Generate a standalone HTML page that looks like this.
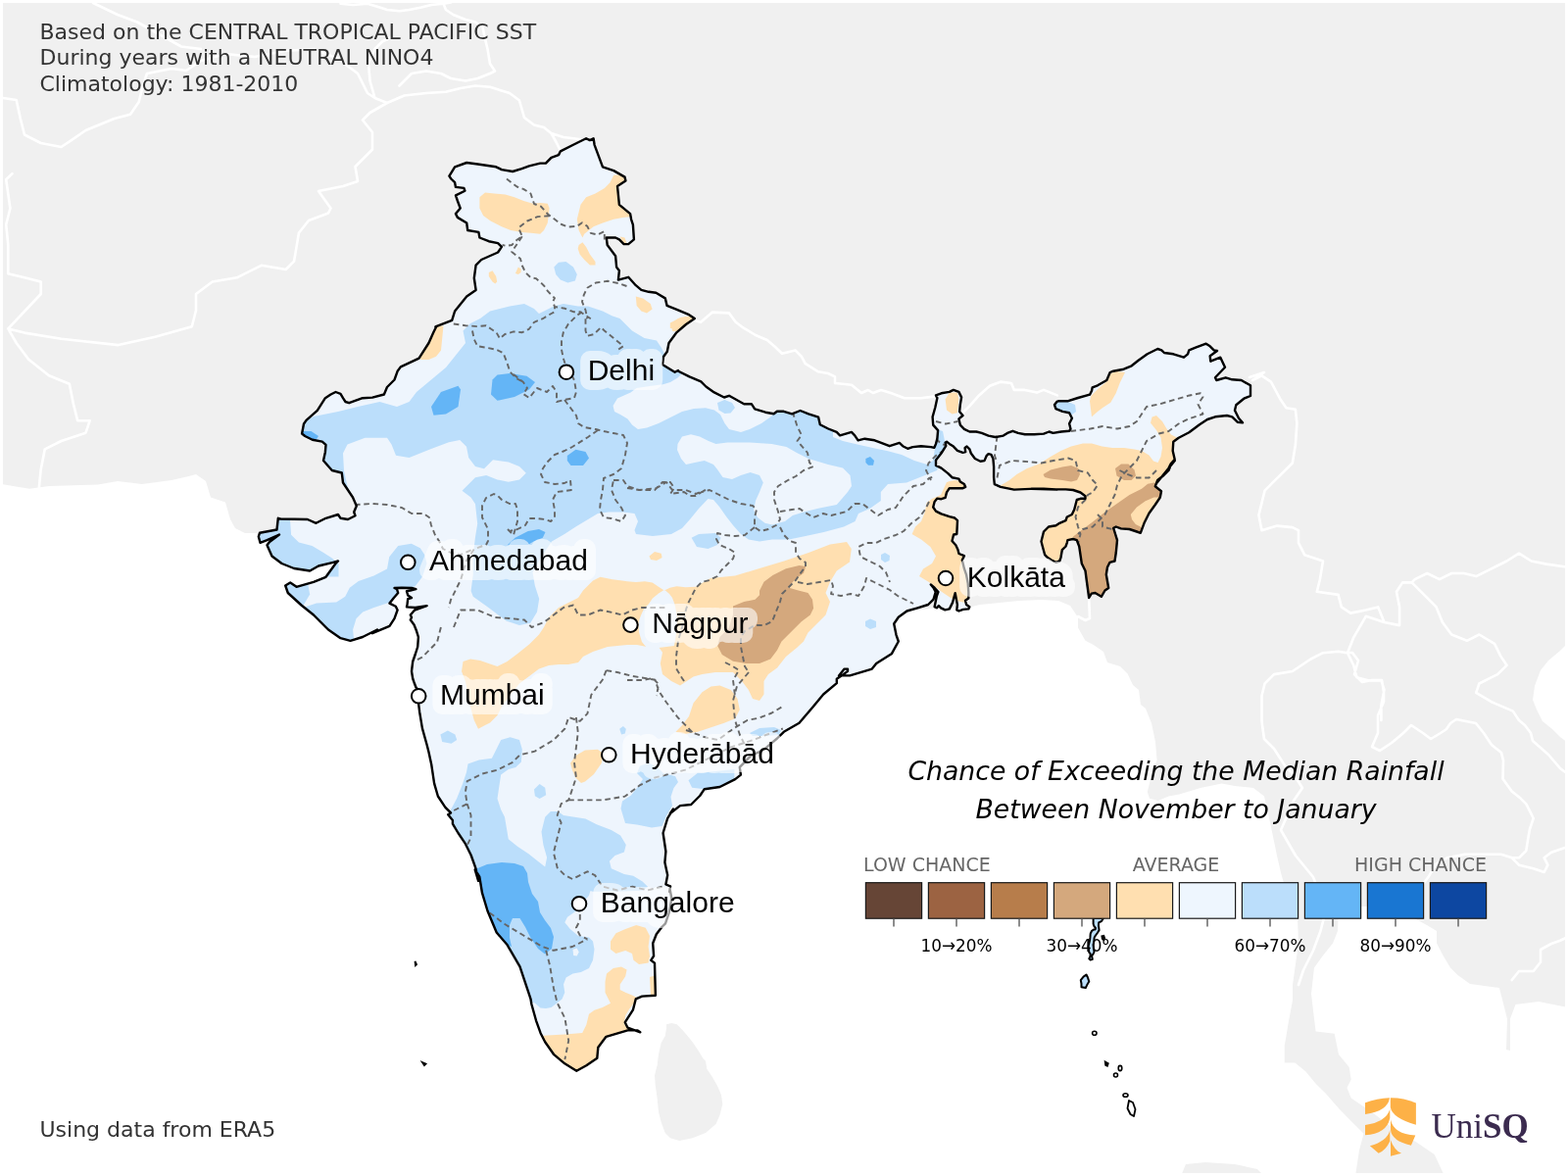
<!DOCTYPE html>
<html><head><meta charset="utf-8"><style>
html,body{margin:0;padding:0;background:#fff;}
svg{display:block;}
</style></head><body>
<svg width="1600" height="1200" viewBox="0 0 1600 1200" font-family="DejaVu Sans, sans-serif">
<rect x="3" y="3" width="1594" height="1194" fill="#f0f0f0"/><path d="M0.0,1200.0 L0.0,493.8 L0.0,493.8 L30.0,498.8 L50.0,496.0 L100.0,494.5 L120.0,491.0 L145.0,494.0 L175.0,490.0 L192.5,486.0 L200.0,484.0 L210.0,491.0 L215.0,507.5 L230.0,512.5 L235.0,530.0 L240.0,539.0 L250.0,544.0 L262.5,544.0 L263.8,547.5 L265.5,553.8 L272.5,551.2 L285.0,545.5 L275.0,553.0 L272.5,556.2 L277.5,567.5 L287.5,575.0 L300.0,580.0 L316.2,582.5 L325.0,577.5 L340.0,573.8 L345.0,572.5 L342.5,575.0 L332.5,588.8 L320.0,593.8 L302.5,598.8 L296.2,594.5 L291.2,597.5 L293.8,605.0 L307.5,617.5 L320.0,627.5 L335.0,642.5 L347.5,651.2 L357.5,653.8 L370.0,650.0 L385.0,642.5 L380.0,646.2 L397.5,638.8 L402.5,631.2 L405.6,622.5 L403.8,618.8 L397.5,615.6 L401.9,610.0 L406.2,605.0 L405.0,601.2 L402.5,600.0 L410.0,599.8 L420.0,600.0 L424.4,601.2 L418.8,602.5 L415.0,603.1 L416.2,607.5 L420.0,610.0 L416.2,611.2 L415.6,616.2 L415.0,619.4 L423.8,620.0 L435.6,618.1 L430.0,620.0 L423.1,622.5 L418.8,627.5 L420.0,630.0 L418.8,632.5 L422.5,637.5 L425.0,643.8 L426.9,650.0 L426.2,660.0 L423.8,667.5 L421.2,675.0 L420.0,685.0 L421.2,692.5 L422.5,696.2 L424.4,701.2 L427.5,705.0 L426.2,707.5 L427.2,718.8 L428.1,726.2 L430.9,743.1 L435.6,760.0 L437.5,767.5 L440.3,780.6 L443.1,799.4 L446.9,812.5 L454.4,823.8 L460.0,829.4 L457.2,831.2 L461.9,836.9 L461.9,840.6 L467.5,850.0 L475.0,861.2 L480.6,872.5 L485.3,885.6 L488.1,898.8 L484.7,887.3 L489.3,894.7 L492.0,911.2 L497.5,929.5 L506.7,951.5 L517.7,964.3 L530.5,986.3 L541.5,1019.3 L542.4,1024.8 L547.0,1041.3 L551.6,1054.2 L556.2,1063.3 L565.3,1076.2 L576.3,1085.3 L588.3,1092.7 L598.3,1087.2 L609.3,1079.8 L610.3,1068.8 L618.5,1057.8 L640.5,1051.4 L650.6,1051.4 L653.3,1053.3 L640.5,1048.7 L637.8,1043.2 L646.0,1030.3 L648.8,1019.3 L655.2,1016.6 L668.9,1015.7 L668.0,982.7 L664.3,979.9 L667.1,975.3 L666.2,962.5 L669.8,953.3 L675.3,946.0 L679.0,942.3 L682.7,931.3 L685.4,916.7 L683.6,907.5 L683.1,910.0 L684.1,904.4 L679.4,902.5 L681.2,893.1 L678.4,880.0 L679.4,868.8 L676.6,850.0 L681.2,835.0 L686.9,825.6 L683.9,830.0 L694.0,822.1 L705.2,821.0 L714.2,812.0 L718.8,805.2 L734.5,803.0 L750.2,795.1 L755.9,790.6 L754.8,782.8 L766.0,771.5 L779.5,764.8 L793.0,753.5 L799.8,746.8 L815.5,737.8 L829.0,722.0 L840.2,708.5 L853.8,697.2 L853.8,692.8 L860.5,688.2 L865.0,684.9 L865.0,682.6 L861.6,682.6 L856.0,689.4 L867.2,689.4 L889.8,682.6 L894.2,677.0 L910.0,666.9 L916.8,654.5 L914.5,647.8 L912.2,636.5 L916.8,629.8 L925.4,623.5 L940.0,622.0 L960.0,620.0 L988.0,620.0 L1000.0,617.0 L1020.0,615.0 L1040.0,613.0 L1062.0,612.0 L1080.0,613.0 L1092.0,618.0 L1100.0,630.0 L1100.0,640.6 L1107.5,653.8 L1115.0,657.5 L1126.0,665.0 L1130.0,676.0 L1143.0,680.0 L1150.6,687.5 L1156.0,699.0 L1162.0,704.0 L1164.0,719.0 L1169.0,723.0 L1175.0,738.0 L1179.0,757.0 L1180.6,775.6 L1175.0,791.0 L1170.8,808.0 L1173.0,814.8 L1181.7,817.0 L1192.5,812.6 L1203.3,810.5 L1225.0,804.0 L1246.6,799.6 L1260.0,802.0 L1279.0,804.0 L1290.0,812.6 L1294.0,830.0 L1298.6,851.6 L1303.0,873.0 L1307.0,890.6 L1309.4,899.0 L1316.0,915.0 L1322.0,930.0 L1324.0,937.5 L1325.0,962.5 L1319.0,1005.0 L1319.0,1020.7 L1315.0,1042.0 L1310.7,1067.5 L1310.7,1084.5 L1321.4,1084.5 L1332.0,1093.0 L1342.6,1105.7 L1353.0,1116.0 L1366.0,1131.0 L1378.7,1144.0 L1391.5,1156.7 L1387.0,1173.7 L1383.0,1200.0 L1290.0,1200.0 L1283.0,1193.0 L1260.0,1188.0 L1230.0,1186.0 L1210.0,1188.0 L1205.0,1200.0Z M1366.0,925.0 L1444.0,925.0 L1444.0,937.5 L1456.0,944.0 L1466.0,950.0 L1466.0,962.5 L1472.5,975.0 L1480.0,987.5 L1487.5,995.0 L1500.0,1004.0 L1530.0,1008.0 L1538.0,1040.0 L1537.0,1071.0 L1541.0,1072.0 L1541.0,1039.5 L1546.5,1025.0 L1570.0,1022.0 L1600.0,1028.0 L1600.0,1200.0 L1474.0,1200.0 L1463.7,1178.0 L1444.6,1165.0 L1420.0,1150.0 L1400.0,1135.0 L1378.7,1120.6 L1374.5,1110.0 L1378.7,1101.5 L1376.6,1088.7 L1366.0,1076.0 L1361.7,1054.7 L1342.6,1052.6 L1340.5,1035.6 L1338.0,1014.0 L1341.0,987.5 L1350.0,975.0 L1360.0,962.5 L1365.0,950.0Z M1600.0,656.0 L1592.0,664.0 L1580.0,674.0 L1572.0,684.0 L1566.0,700.0 L1564.0,714.0 L1568.0,724.0 L1574.0,736.0 L1584.0,744.0 L1592.0,752.0 L1600.0,758.0Z" fill="#ffffff"/><path d="M680.0,1045.3 L685.3,1044.0 L690.7,1045.3 L697.3,1052.0 L704.0,1060.0 L708.0,1065.3 L713.3,1073.3 L717.3,1080.0 L720.0,1082.7 L721.3,1090.7 L726.7,1098.7 L732.0,1108.0 L736.0,1117.3 L737.3,1126.7 L734.7,1137.3 L730.7,1146.7 L720.0,1156.0 L706.7,1161.3 L693.3,1164.0 L684.0,1161.3 L678.7,1156.0 L674.7,1145.3 L672.0,1134.7 L670.7,1121.3 L668.7,1106.7 L668.0,1097.3 L670.7,1086.7 L672.0,1076.0 L674.7,1064.0 L678.7,1057.3 L680.0,1049.3Z" fill="#f0f0f0"/><path id="india" d="M444.4,333.4 L461.2,326.9 L464.1,317.5 L476.2,302.5 L485.6,295.9 L483.8,283.8 L485.6,270.6 L491.2,265.0 L508.1,257.5 L511.9,251.9 L508.1,248.1 L498.8,246.2 L489.4,242.5 L488.4,236.9 L477.2,235.0 L476.2,227.5 L466.9,221.9 L465.0,218.1 L469.7,212.5 L466.9,205.0 L465.0,199.4 L474.4,194.7 L473.4,191.9 L465.0,190.9 L464.1,186.2 L460.3,182.5 L458.4,179.7 L464.1,170.3 L476.2,166.0 L487.5,167.5 L506.2,170.3 L511.9,173.1 L523.1,175.0 L532.5,172.2 L540.0,169.4 L551.2,166.6 L556.9,166.6 L562.5,160.9 L570.0,158.1 L571.9,154.4 L585.0,147.8 L598.1,141.2 L601.9,143.1 L605.6,141.2 L606.6,147.8 L615.0,170.3 L626.2,174.1 L637.5,180.6 L638.4,184.4 L630.0,190.0 L631.9,208.8 L643.1,218.1 L644.1,223.8 L645.9,229.4 L646.9,244.4 L641.2,249.1 L636.6,249.1 L631.9,244.4 L628.1,242.5 L618.8,242.5 L619.7,250.0 L628.1,261.2 L629.1,272.5 L631.9,276.2 L630.9,285.6 L641.2,282.8 L648.8,291.2 L654.4,295.9 L661.9,297.8 L669.4,298.8 L678.8,304.4 L680.6,311.9 L690.0,315.6 L703.1,321.2 L708.8,325.0 L700.0,331.0 L690.0,339.7 L682.5,350.0 L680.8,358.8 L677.0,364.0 L676.0,371.9 L682.5,376.0 L688.6,379.8 L692.0,378.0 L691.7,378.5 L703.5,384.4 L715.3,389.4 L720.4,394.5 L728.8,400.4 L738.9,405.5 L744.0,403.8 L759.2,412.2 L766.8,412.2 L770.2,417.3 L781.1,420.7 L789.6,422.3 L792.9,419.8 L799.7,419.8 L808.1,422.3 L816.6,419.0 L825.0,422.3 L835.1,425.7 L836.8,433.3 L845.2,437.5 L853.7,440.9 L857.1,444.3 L868.9,440.9 L872.2,444.3 L875.6,449.3 L882.4,447.7 L892.5,449.3 L899.2,451.9 L907.7,455.2 L917.8,451.9 L921.2,455.2 L926.2,457.8 L931.3,456.1 L939.8,455.2 L949.9,456.1 L953.2,456.9 L953.6,456.3 L955.0,452.9 L956.4,447.4 L957.1,439.1 L952.2,433.6 L951.6,425.4 L954.3,415.8 L956.4,406.1 L955.0,403.4 L960.5,401.3 L968.8,399.9 L972.9,397.9 L978.4,399.9 L981.1,405.4 L979.8,413.0 L979.1,419.9 L982.5,424.0 L978.4,427.4 L979.8,433.6 L983.9,437.8 L989.4,440.5 L996.2,440.5 L1001.8,441.9 L1008.6,444.6 L1015.5,446.0 L1023.8,444.6 L1027.9,441.9 L1033.4,439.8 L1038.9,441.9 L1045.8,443.2 L1055.4,443.2 L1065.0,442.6 L1070.5,440.5 L1074.6,441.9 L1082.9,440.5 L1091.1,439.8 L1092.5,437.8 L1091.1,432.2 L1093.9,426.8 L1091.1,421.2 L1084.2,419.9 L1077.4,417.1 L1076.0,413.0 L1078.8,409.6 L1080.0,409.3 L1089.3,409.3 L1100.0,406.0 L1112.0,402.7 L1114.0,398.7 L1114.7,395.3 L1120.0,393.3 L1129.3,388.0 L1132.7,380.0 L1136.0,378.7 L1146.7,376.7 L1154.7,373.3 L1161.3,368.0 L1170.7,361.3 L1181.3,356.0 L1185.3,357.3 L1188.0,360.0 L1197.3,361.3 L1208.0,364.7 L1212.0,361.3 L1213.3,357.3 L1220.0,354.7 L1230.7,350.7 L1234.7,353.3 L1238.7,357.3 L1242.0,358.0 L1234.7,363.3 L1235.3,368.7 L1245.3,364.7 L1250.0,374.7 L1240.0,385.3 L1241.3,388.0 L1250.7,385.3 L1257.3,387.3 L1266.7,388.0 L1276.0,393.3 L1276.0,404.0 L1269.3,406.7 L1261.3,413.3 L1260.0,418.7 L1264.0,426.7 L1268.0,431.3 L1262.7,430.7 L1257.3,425.3 L1252.0,424.0 L1240.0,425.3 L1232.0,428.0 L1224.0,433.3 L1213.3,441.3 L1202.7,446.7 L1197.3,450.7 L1196.7,460.0 L1198.7,468.7 L1194.7,473.3 L1190.7,481.3 L1184.0,488.0 L1180.0,493.3 L1198.8,470.0 L1195.0,473.8 L1192.5,480.0 L1187.5,485.0 L1181.2,490.0 L1178.8,496.2 L1185.0,501.2 L1183.8,507.5 L1178.8,515.0 L1172.5,523.8 L1167.5,533.8 L1163.8,543.8 L1160.0,542.5 L1152.5,540.0 L1143.8,539.4 L1138.8,537.5 L1136.2,538.8 L1138.1,545.0 L1140.0,551.2 L1138.8,563.8 L1137.5,572.5 L1132.5,573.8 L1130.0,578.8 L1128.8,586.2 L1131.2,600.0 L1127.5,602.5 L1123.8,608.8 L1117.5,605.0 L1113.8,605.6 L1111.2,610.0 L1108.8,592.5 L1107.5,582.5 L1103.8,575.0 L1102.5,566.2 L1101.2,557.5 L1098.8,551.2 L1095.0,550.0 L1089.4,551.2 L1088.8,553.8 L1087.5,557.5 L1083.8,561.2 L1082.5,568.8 L1081.2,572.5 L1077.5,573.8 L1072.5,571.2 L1068.8,568.8 L1066.2,566.2 L1063.8,557.5 L1062.5,552.5 L1065.0,542.5 L1070.0,537.5 L1077.5,536.2 L1081.2,533.8 L1087.5,531.2 L1088.8,527.5 L1093.8,525.0 L1096.2,520.0 L1097.5,515.0 L1098.8,510.0 L1102.5,508.8 L1107.5,508.8 L1107.5,506.2 L1102.5,502.5 L1095.0,500.0 L1087.5,499.4 L1077.5,499.4 L1065.0,498.8 L1052.5,498.8 L1078.8,499.6 L1065.0,498.9 L1051.2,498.9 L1034.8,499.6 L1021.0,496.9 L1014.8,494.1 L1014.1,487.2 L1014.1,476.2 L1013.4,468.0 L1011.4,463.9 L1008.6,463.2 L1006.6,465.2 L1004.5,470.1 L1000.4,470.8 L994.9,468.0 L990.8,462.5 L989.4,458.4 L986.6,455.6 L984.6,457.0 L985.2,461.1 L982.5,461.8 L977.0,459.8 L972.9,455.6 L968.8,452.9 L966.0,450.8 L964.6,451.5 L965.3,454.9 L960.5,462.5 L955.0,469.4 L955.0,474.9 L960.5,477.6 L967.4,483.1 L971.5,487.2 L978.4,488.6 L979.8,491.4 L983.9,494.1 L985.2,496.9 L982.5,498.2 L977.0,498.2 L968.8,498.2 L966.0,502.4 L964.6,507.9 L960.5,509.2 L956.4,508.6 L953.6,512.0 L952.2,517.5 L955.0,521.6 L960.5,524.4 L968.8,527.1 L974.2,528.5 L977.0,531.2 L976.3,545.0 L973.1,545.5 L971.5,552.0 L975.3,556.3 L977.4,560.7 L978.5,565.0 L983.9,567.2 L981.8,571.5 L983.9,580.2 L986.1,586.7 L987.7,595.4 L988.3,604.0 L988.3,608.4 L988.3,610.5 L985.0,612.7 L986.1,617.0 L989.3,619.2 L988.3,621.4 L982.8,621.9 L978.5,623.5 L976.3,622.4 L976.9,617.0 L975.3,608.4 L974.7,605.1 L972.0,614.9 L968.8,621.4 L964.4,622.4 L960.1,620.3 L957.9,618.1 L955.8,620.3 L953.6,619.2 L955.8,608.4 L957.4,604.0 L953.6,599.7 L950.3,597.0 L949.8,596.4 L952.5,599.7 L954.7,604.0 L952.5,611.6 L947.1,617.0 L936.3,620.3 L925.4,623.5 L916.8,629.8 L912.2,636.5 L914.5,647.8 L916.8,654.5 L910.0,666.9 L894.2,677.0 L889.8,682.6 L867.2,689.4 L856.0,689.4 L861.6,682.6 L865.0,682.6 L865.0,684.9 L860.5,688.2 L853.8,692.8 L853.8,697.2 L840.2,708.5 L829.0,722.0 L815.5,737.8 L799.8,746.8 L793.0,753.5 L779.5,764.8 L766.0,771.5 L754.8,782.8 L755.9,790.6 L750.2,795.1 L734.5,803.0 L718.8,805.2 L714.2,812.0 L705.2,821.0 L694.0,822.1 L683.9,830.0 L686.9,825.6 L681.2,835.0 L676.6,850.0 L679.4,868.8 L678.4,880.0 L681.2,893.1 L679.4,902.5 L684.1,904.4 L683.1,910.0 L683.6,907.5 L685.4,916.7 L682.7,931.3 L679.0,942.3 L675.3,946.0 L669.8,953.3 L666.2,962.5 L667.1,975.3 L664.3,979.9 L668.0,982.7 L668.9,1015.7 L655.2,1016.6 L648.8,1019.3 L646.0,1030.3 L637.8,1043.2 L640.5,1048.7 L653.3,1053.3 L650.6,1051.4 L640.5,1051.4 L618.5,1057.8 L610.3,1068.8 L609.3,1079.8 L598.3,1087.2 L588.3,1092.7 L576.3,1085.3 L565.3,1076.2 L556.2,1063.3 L551.6,1054.2 L547.0,1041.3 L542.4,1024.8 L541.5,1019.3 L530.5,986.3 L517.7,964.3 L506.7,951.5 L497.5,929.5 L492.0,911.2 L489.3,894.7 L484.7,887.3 L488.1,898.8 L485.3,885.6 L480.6,872.5 L475.0,861.2 L467.5,850.0 L461.9,840.6 L461.9,836.9 L457.2,831.2 L460.0,829.4 L454.4,823.8 L446.9,812.5 L443.1,799.4 L440.3,780.6 L437.5,767.5 L435.6,760.0 L430.9,743.1 L428.1,726.2 L427.2,718.8 L426.2,707.5 L427.5,705.0 L424.4,701.2 L422.5,696.2 L421.2,692.5 L420.0,685.0 L421.2,675.0 L423.8,667.5 L426.2,660.0 L426.9,650.0 L425.0,643.8 L422.5,637.5 L418.8,632.5 L420.0,630.0 L418.8,627.5 L423.1,622.5 L430.0,620.0 L435.6,618.1 L423.8,620.0 L415.0,619.4 L415.6,616.2 L416.2,611.2 L420.0,610.0 L416.2,607.5 L415.0,603.1 L418.8,602.5 L424.4,601.2 L420.0,600.0 L410.0,599.8 L402.5,600.0 L405.0,601.2 L406.2,605.0 L401.9,610.0 L397.5,615.6 L403.8,618.8 L405.6,622.5 L402.5,631.2 L397.5,638.8 L380.0,646.2 L385.0,642.5 L370.0,650.0 L357.5,653.8 L347.5,651.2 L335.0,642.5 L320.0,627.5 L307.5,617.5 L293.8,605.0 L291.2,597.5 L296.2,594.5 L302.5,598.8 L320.0,593.8 L332.5,588.8 L342.5,575.0 L345.0,572.5 L340.0,573.8 L325.0,577.5 L316.2,582.5 L300.0,580.0 L287.5,575.0 L277.5,567.5 L272.5,556.2 L275.0,553.0 L285.0,545.5 L272.5,551.2 L265.5,553.8 L263.8,547.5 L265.0,543.8 L282.5,540.5 L283.8,528.8 L286.2,529.5 L313.8,530.0 L322.5,533.8 L332.5,528.8 L345.0,525.0 L347.5,528.8 L355.0,530.0 L362.5,526.2 L361.2,522.5 L363.8,516.2 L360.0,507.5 L350.0,492.5 L348.8,482.5 L338.8,480.0 L330.0,470.0 L330.0,470.0 L331.9,461.2 L332.5,453.8 L328.8,450.6 L318.8,448.8 L311.2,445.0 L308.1,442.5 L310.0,432.5 L312.5,428.8 L323.8,418.8 L331.9,406.2 L337.5,402.5 L342.5,400.0 L347.5,401.9 L350.0,406.2 L352.5,410.0 L356.2,411.2 L370.0,406.2 L380.0,405.6 L391.9,402.5 L395.0,395.0 L402.5,387.5 L405.6,378.8 L408.8,374.4 L427.5,365.6 L437.5,350.0 L442.5,338.8 L445.0,333.8Z" fill="#eef5fd"/>
<path d="M8.3,335.4 L25.0,339.6 L62.5,345.8 L120.8,352.1 L158.3,343.8 L195.8,333.3 L200.0,316.7 L200.0,300.0 L216.7,287.5 L241.7,283.3 L266.7,270.8 L291.7,275.0 L300.0,266.7 L305.0,237.5 L315.0,225.0 L335.0,217.5 L337.5,212.5 L325.0,195.0 L350.0,190.0 L365.0,185.0 L362.5,170.0 L380.0,152.5 L380.0,135.0 L370.0,122.5 L377.5,115.0 L395.0,105.0 L412.5,97.5 L435.0,95.0 L455.0,93.8 L470.0,90.0 L485.0,87.5 L500.0,88.8 L520.0,95.0 L530.0,102.5 L535.0,120.0 L545.0,127.5 L555.0,130.0 L562.5,136.0 L575.0,140.0 L595.0,142.5 M562.5,136.0 L567.5,145.0 L572.5,155.0 M8.3,335.4 L41.7,300.0 L41.7,287.5 L25.0,283.3 L8.3,279.2 L8.3,250.0 L6.2,229.2 L10.4,212.5 L6.2,183.3 L12.5,177.1 M8.3,335.4 L16.7,350.0 L29.2,366.7 L50.0,383.3 L70.8,391.7 L75.0,412.5 L79.2,429.2 L91.7,429.2 L87.5,441.7 L62.5,450.0 L45.8,458.3 L41.7,479.2 L39.6,500.0 M3.0,100.0 L16.7,102.0 L20.8,121.0 L25.0,137.5 L41.7,146.0 L62.5,150.0 L75.0,141.7 L87.5,133.0 L116.7,121.0 L133.0,116.7 L141.7,104.0 L145.8,87.5 L150.0,75.0 L175.0,70.0 L190.0,72.0 L205.0,62.0 L230.0,55.0 L260.0,58.0 L290.0,52.0 L320.0,50.0 L345.0,60.0 L365.0,75.0 L375.0,95.0 L382.5,100.0 L395.0,105.0 M95.0,3.0 L120.0,15.0 L140.0,22.5 L162.5,35.0 L185.0,47.5 L205.0,50.0 M382.5,100.0 L377.5,82.5 L376.0,65.0 L382.5,50.0 L390.0,42.5 L400.0,37.5 M407.5,87.5 L420.0,75.0 L435.0,72.5 L450.0,75.0 L460.0,80.0 L475.0,82.5 L487.5,80.0 L500.0,75.0 L505.0,72.5 L500.0,65.0 L497.5,50.0 L495.0,40.0 L492.5,27.5 L485.0,22.5 L475.0,20.0 L462.5,15.0 L455.0,10.0 L452.5,3.8 M347.5,3.8 L360.0,5.0 L375.0,3.8 L387.5,7.5 L395.0,10.0 L407.5,11.2 L417.5,10.0 L430.0,7.5 L440.0,5.0 L452.5,3.8 L460.0,2.5 M708.6,327.0 L715.0,328.7 L727.0,318.6 L744.0,319.4 L750.8,328.7 L757.5,333.8 L771.0,342.0 L782.8,347.0 L791.0,354.0 L798.0,360.8 L811.5,357.4 L818.0,364.0 L821.6,370.9 L835.0,379.3 L845.0,381.0 L852.0,384.4 L852.0,391.0 L868.9,392.8 L879.0,401.0 L885.8,398.0 L890.8,401.0 L899.0,398.0 L909.0,401.0 L922.9,406.3 L939.8,406.3 L953.0,404.6 M982.5,421.0 L989.4,414.4 L999.0,403.4 L1010.0,393.8 L1021.0,389.6 L1032.0,391.0 L1034.8,397.9 L1045.8,397.9 L1058.0,400.6 L1065.0,397.9 L1078.8,403.4 M1275.0,385.0 L1290.0,380.0 L1278.1,388.1 L1287.5,383.4 L1296.9,389.7 L1306.2,406.9 L1312.5,416.2 L1321.9,417.8 L1323.4,431.9 L1321.9,453.8 L1318.8,472.5 L1309.4,481.9 L1300.0,491.2 L1290.6,500.6 L1287.5,513.1 L1284.4,525.6 L1287.5,541.2 L1303.1,536.6 L1318.8,538.1 L1325.0,541.2 L1325.0,553.8 L1331.2,566.2 L1350.0,572.5 L1346.9,591.2 L1343.8,603.8 L1365.6,606.9 L1368.8,619.4 L1378.1,625.6 L1393.8,622.5 L1406.2,619.4 L1412.5,635.0 L1428.1,638.1 L1428.1,619.4 L1425.0,603.8 L1431.2,594.4 L1440.6,594.4 L1443.8,591.2 L1456.2,585.0 L1468.8,591.2 L1481.2,585.0 L1493.8,585.0 L1506.2,588.1 L1518.8,581.9 L1537.5,572.5 L1550.0,564.7 L1562.5,572.5 L1578.1,575.6 L1600.0,578.8 M1440.6,594.4 L1453.1,606.9 L1465.6,619.4 L1471.9,635.0 L1481.2,647.5 L1496.9,653.8 L1509.4,647.5 L1525.0,656.9 L1531.2,669.4 L1537.5,678.8 L1528.1,688.1 L1509.4,697.5 L1506.2,706.9 L1521.9,716.2 L1543.8,725.6 L1550.0,735.0 M1412.5,635.0 L1393.8,628.8 L1381.2,650.6 L1375.0,666.2 L1365.6,664.7 L1350.0,666.2 L1337.5,672.5 L1318.8,685.0 L1300.0,688.1 L1290.6,697.5 L1287.5,710.0 L1287.5,735.0 M1375.0,666.2 L1381.2,678.8 L1384.4,691.2 L1396.9,694.4 L1409.4,694.4 L1412.5,703.8 L1409.4,719.4 L1409.4,735.0 M1372.0,666.0 L1380.0,666.0 L1386.0,674.0 L1382.0,688.0 L1390.0,696.0 L1400.0,694.0 L1410.0,694.0 L1412.0,706.0 L1412.0,716.0 L1406.0,730.0 L1406.0,736.0 L1406.0,748.0 L1400.0,762.0 L1408.0,766.0 L1420.0,758.0 L1432.0,748.0 L1440.0,740.0 L1452.0,748.0 L1460.0,754.0 L1470.0,748.0 L1476.0,744.0 L1480.0,738.0 L1486.0,734.0 L1496.0,736.0 L1506.0,738.0 L1514.0,748.0 L1522.0,760.0 L1532.0,768.0 L1534.0,776.0 L1533.5,794.7 L1542.7,807.5 L1551.8,814.8 L1557.3,820.3 L1561.0,827.7 L1564.7,835.0 L1561.0,846.0 L1559.0,857.0 L1557.3,868.0 L1550.0,875.3 L1542.7,875.3 L1531.7,871.7 L1513.3,871.7 L1495.0,871.7 L1476.7,875.3 L1465.0,882.0 L1458.3,893.7 L1450.0,905.0 M1542.7,875.3 L1550.0,882.7 L1564.7,886.3 L1575.7,890.0 L1579.4,882.7 L1575.7,875.3 L1583.0,869.8 L1594.0,866.0 L1600.0,864.0 M1542.7,1000.0 L1550.0,991.0 L1564.7,991.0 L1572.0,981.7 L1572.0,969.0 L1583.0,963.0 L1592.0,959.7 L1600.0,956.0 M1550.0,735.0 L1556.0,740.0 L1562.0,748.0 L1564.0,756.0 L1580.0,770.0 L1592.0,784.0 L1600.0,790.0 M1287.5,735.0 L1288.0,740.0 L1290.0,754.0 L1300.0,764.0 L1311.6,782.0 L1320.0,790.0 L1329.0,804.0 L1320.0,817.0 L1307.0,847.0 L1322.0,873.0 L1340.0,895.0 L1348.4,916.6 L1350.6,938.0 L1347.5,950.0 L1340.0,970.0 L1330.0,990.0 L1325.0,1005.0 M1111.2,610.6 L1112.0,631.0 L1107.5,633.0 L1100.0,629.0" fill="none" stroke="#fff" stroke-width="2.6" stroke-linejoin="round" stroke-linecap="round"/>
<clipPath id="clipIndia"><use href="#india"/></clipPath>
<g clip-path="url(#clipIndia)">
<path d="M295.0,445.0 L310.0,430.0 L320.0,425.0 L345.0,420.0 L365.0,415.0 L387.5,410.0 L405.0,415.0 L417.5,410.0 L425.0,400.0 L440.0,387.5 L455.0,375.0 L465.0,362.5 L475.0,350.0 L472.5,337.5 L480.0,330.0 L490.0,325.0 L500.0,317.5 L520.0,312.5 L535.0,310.0 L545.0,315.0 L550.0,320.0 L565.0,312.5 L575.0,310.0 L590.0,312.5 L600.0,312.5 L615.0,317.5 L625.0,322.5 L632.5,325.0 L645.0,337.5 L657.5,345.0 L670.0,347.5 L675.0,355.0 L680.0,365.0 L690.0,360.0 L760.0,370.0 L900.0,420.0 L962.0,440.0 L966.0,460.0 L956.0,480.0 L943.8,485.0 L925.0,492.5 L906.0,494.0 L898.8,502.0 L898.8,511.0 L887.5,519.0 L876.0,524.0 L872.5,532.0 L861.0,537.5 L840.6,543.0 L822.0,547.0 L805.0,550.6 L788.0,550.6 L775.0,552.5 L763.8,550.6 L756.0,545.0 L748.0,536.0 L741.0,527.0 L734.0,517.0 L728.0,510.0 L722.5,509.0 L713.0,519.0 L704.0,530.0 L696.0,539.0 L685.0,545.0 L666.0,547.0 L649.0,545.0 L647.5,541.0 L651.0,532.0 L647.5,524.0 L636.0,522.5 L621.0,522.5 L610.0,524.0 L600.0,530.0 L587.5,537.5 L576.0,545.0 L563.0,552.5 L552.5,568.0 L543.5,584.0 L545.8,597.5 L550.2,611.0 L548.0,624.5 L541.2,635.8 L530.0,638.0 L516.5,633.5 L498.5,620.0 L482.8,608.8 L480.6,603.0 L482.8,586.0 L482.8,566.0 L485.0,548.0 L487.2,534.5 L485.0,514.2 L480.5,507.5 L471.5,500.8 L476.0,496.2 L485.0,487.2 L496.2,485.0 L507.5,489.5 L518.8,491.8 L530.0,489.5 L536.8,482.8 L530.0,476.0 L518.8,471.5 L503.0,469.2 L494.0,478.2 L485.0,476.0 L478.2,467.0 L476.0,455.8 L469.2,449.0 L458.0,451.2 L440.0,458.0 L417.5,467.0 L404.0,464.8 L399.5,453.5 L395.0,446.8 L372.5,446.8 L354.5,453.5 L350.0,462.5 L351.0,480.5 L354.5,496.0 L359.0,507.5 L363.5,516.5 L340.0,525.0 L290.0,460.0Z" fill="#bbdefb"/><path d="M282.5,525.5 L296.0,530.0 L297.1,545.8 L305.0,553.6 L318.5,557.0 L329.8,563.8 L338.8,569.4 L345.5,575.0 L345.5,588.5 L260.0,588.5 L260.0,525.5Z" fill="#bbdefb"/><path d="M289.2,593.0 L314.0,595.2 L316.2,606.5 L309.5,617.8 L298.2,613.2 L289.2,602.0Z" fill="#bbdefb"/><path d="M309.5,620.0 L323.0,615.5 L343.2,614.4 L352.2,608.8 L356.8,599.8 L365.8,593.0 L381.5,587.4 L395.0,580.6 L397.2,568.2 L406.2,557.0 L419.8,554.8 L428.8,559.2 L433.2,566.0 L435.5,575.0 L431.0,588.5 L424.2,597.5 L417.5,602.0 L406.2,611.0 L395.0,615.5 L381.5,620.0 L370.2,624.5 L363.5,631.2 L360.1,642.5 L361.2,653.8 L327.5,656.0 L300.5,631.2Z" fill="#bbdefb"/><path d="M625.5,414.0 L630.0,406.5 L643.5,400.5 L649.5,396.0 L664.5,393.8 L676.5,392.2 L684.0,390.0 L691.5,385.5 L696.0,381.0 L720.0,385.0 L780.0,405.0 L792.0,418.0 L787.5,424.5 L777.0,432.0 L765.0,438.0 L756.0,441.0 L744.0,438.0 L739.5,432.0 L735.0,423.0 L729.0,418.5 L720.0,416.2 L708.0,417.0 L696.0,420.0 L684.0,426.0 L672.0,432.0 L660.0,436.5 L651.0,438.0 L645.0,433.5 L640.5,427.5 L633.0,423.0 L627.0,420.0Z" fill="#eef5fd"/><path d="M732.0,411.0 L739.5,408.0 L747.0,411.0 L750.0,416.0 L745.5,421.5 L739.5,422.0 L733.5,418.5Z" fill="#bbdefb"/><path d="M850.0,438.0 L900.0,445.0 L955.0,452.0 L952.0,470.0 L946.0,474.0 L933.0,470.0 L920.0,464.0 L905.0,460.0 L895.0,458.0 L877.0,454.0 L860.0,450.0 L850.0,446.0Z" fill="#eef5fd"/><path d="M691.5,453.0 L696.0,445.5 L705.0,443.2 L714.0,445.5 L723.0,450.0 L730.5,453.0 L742.5,451.5 L765.0,451.5 L787.5,453.0 L802.5,456.0 L813.0,462.0 L825.0,468.0 L845.0,474.0 L860.0,477.5 L867.5,485.0 L869.0,496.0 L865.0,502.0 L859.0,509.0 L853.8,515.0 L835.0,518.8 L820.0,522.5 L808.8,526.0 L801.0,532.0 L788.0,535.6 L780.6,533.8 L773.0,528.0 L769.0,520.6 L771.0,511.0 L775.0,502.0 L778.8,492.5 L775.0,485.0 L765.6,482.0 L756.0,485.0 L747.0,489.0 L737.5,487.0 L732.0,479.0 L728.0,474.0 L718.8,470.0 L709.0,472.0 L700.0,474.0 L695.0,468.0 L691.0,459.0Z" fill="#eef5fd"/><path d="M705.6,548.8 L713.0,545.0 L730.0,544.0 L735.6,548.8 L732.0,556.0 L722.5,560.0 L711.0,558.0Z" fill="#bbdefb"/><path d="M899.0,566.0 L903.0,564.0 L908.0,567.0 L907.5,572.0 L903.0,574.0 L899.0,571.0Z" fill="#bbdefb"/><path d="M883.0,634.0 L888.0,631.5 L894.0,634.0 L894.0,640.0 L888.0,642.0 L883.0,639.0Z" fill="#bbdefb"/><path d="M565.3,272.5 L570.0,267.8 L577.5,266.9 L585.0,272.5 L588.8,280.0 L586.9,286.6 L579.4,288.4 L571.9,285.6 L567.2,280.0Z" fill="#bbdefb"/><path d="M1076.0,410.0 L1090.0,410.0 L1097.0,413.0 L1098.0,420.0 L1094.0,423.0 L1080.0,422.0Z" fill="#bbdefb"/><path d="M440.0,415.0 L450.0,400.0 L467.5,393.8 L470.0,397.5 L467.5,415.0 L455.0,422.5 L442.5,423.8Z" fill="#64b5f6"/><path d="M502.5,387.5 L507.5,382.5 L520.0,381.0 L537.5,383.8 L546.0,390.0 L540.0,397.5 L525.0,405.0 L507.5,408.8 L501.0,402.5Z" fill="#64b5f6"/><path d="M578.8,465.0 L587.5,458.8 L597.5,461.0 L601.0,467.5 L595.0,475.0 L582.5,475.0 L578.8,470.0Z" fill="#64b5f6"/><path d="M308.0,440.0 L317.5,440.0 L325.0,445.0 L322.5,448.8 L312.5,447.5Z" fill="#64b5f6"/><path d="M525.6,548.8 L538.8,542.0 L550.0,540.0 L556.5,543.0 L553.8,548.8 L544.4,552.5 L538.8,556.0 L518.0,556.0Z" fill="#64b5f6"/><path d="M883.4,468.0 L888.0,466.0 L892.0,470.0 L891.0,474.7 L886.0,474.7 L883.4,472.0Z" fill="#64b5f6"/><path d="M477.5,779.4 L488.8,775.6 L501.9,773.8 L507.5,762.5 L511.2,755.0 L520.6,752.2 L530.0,755.0 L532.8,764.4 L531.9,777.5 L526.2,783.1 L518.8,785.0 L511.2,790.6 L509.4,801.9 L507.5,815.0 L511.2,826.2 L515.0,833.8 L516.9,845.0 L518.8,856.2 L528.1,863.8 L539.4,871.2 L548.8,878.8 L556.2,884.4 L558.1,875.0 L554.4,861.9 L552.5,848.8 L556.2,833.8 L561.9,828.1 L569.4,828.1 L575.0,831.9 L586.2,833.8 L597.5,835.6 L608.8,841.2 L623.8,846.9 L633.1,852.5 L638.8,861.9 L636.9,869.4 L627.5,873.1 L621.9,878.8 L623.8,886.2 L636.9,891.9 L646.2,893.8 L655.6,899.4 L661.2,905.0 L655.6,908.8 L627.5,909.7 L605.0,909.7 L601.2,908.8 L603.8,904.0 L601.0,913.8 L587.3,930.0 L579.0,935.8 L576.3,941.2 L581.8,948.0 L590.0,955.0 L601.0,956.4 L605.0,960.5 L606.5,968.8 L605.0,979.8 L601.0,988.0 L592.8,992.0 L584.5,993.5 L577.6,997.6 L575.0,1004.5 L576.3,1012.8 L573.5,1019.6 L568.0,1023.8 L562.5,1028.0 L557.0,1029.0 L551.5,1028.6 L546.0,1023.8 L500.0,1000.0 L445.0,845.0 L458.0,830.0 L466.0,815.0 L472.0,800.0 L476.0,788.0Z" fill="#bbdefb"/><path d="M584.5,968.8 L588.7,967.4 L590.7,971.5 L588.7,975.6 L585.2,975.0Z" fill="#eef5fd"/><path d="M633.5,825.0 L635.0,817.5 L644.0,811.5 L650.0,804.0 L656.0,795.0 L650.0,789.0 L653.0,781.5 L662.0,778.5 L671.0,783.0 L677.0,789.0 L689.0,792.0 L692.0,798.0 L687.5,804.0 L684.5,813.0 L686.0,822.0 L680.0,832.5 L675.5,843.0 L665.0,844.5 L650.0,841.5 L638.0,840.0Z" fill="#bbdefb"/><path d="M765.0,748.0 L775.0,743.0 L790.0,742.0 L797.0,745.0 L795.0,750.0 L780.0,751.0 L768.0,751.0Z" fill="#bbdefb"/><path d="M702.5,796.2 L711.9,788.8 L730.6,786.9 L749.4,785.0 L749.4,803.8 L721.2,805.6 L706.2,803.8Z" fill="#bbdefb"/><path d="M449.4,749.4 L456.9,745.6 L464.4,749.4 L466.2,755.0 L460.6,758.8 L451.2,756.9Z" fill="#bbdefb"/><path d="M545.0,805.6 L550.6,800.0 L556.2,803.8 L557.2,811.2 L550.6,815.0 L545.9,812.2Z" fill="#bbdefb"/><path d="M632.2,743.8 L635.9,740.9 L638.8,743.8 L637.8,748.4 L634.1,749.4Z" fill="#bbdefb"/><path d="M470.0,880.0 L485.0,887.0 L497.0,882.0 L512.0,880.0 L525.0,881.0 L534.0,884.0 L538.0,891.0 L539.0,900.0 L543.0,912.0 L549.0,920.0 L551.0,931.0 L556.0,939.0 L562.0,947.0 L565.0,956.0 L563.0,968.0 L556.0,973.5 L549.0,968.0 L541.5,957.0 L536.0,946.0 L530.5,937.0 L523.0,937.0 L520.0,944.0 L520.0,957.0 L522.0,966.0 L517.7,964.3 L506.7,951.5 L497.5,929.5 L480.0,907.5Z" fill="#64b5f6"/><path d="M489.4,201.2 L495.0,196.6 L504.4,197.5 L515.6,198.4 L525.0,201.2 L534.4,205.0 L543.8,207.8 L551.2,206.9 L558.8,207.8 L560.6,212.5 L559.7,220.0 L558.8,227.5 L555.0,235.0 L551.2,238.8 L541.9,237.8 L532.5,236.9 L521.2,235.0 L511.9,231.2 L500.6,225.6 L493.1,220.0 L489.4,212.5Z" fill="#ffdfb0"/><path d="M626.2,178.8 L645.0,176.9 L656.2,220.0 L635.6,221.9 L626.2,223.8 L615.0,227.5 L605.6,231.2 L596.2,238.8 L594.4,242.5 L590.6,235.0 L588.8,223.8 L592.5,208.8 L598.1,201.2 L607.5,197.5 L616.9,191.9 L622.5,186.2Z" fill="#ffdfb0"/><path d="M590.6,250.0 L594.4,247.2 L598.1,251.9 L601.9,259.4 L607.5,266.9 L607.5,270.6 L601.9,270.6 L596.2,265.0 L591.6,259.4 L589.7,253.8Z" fill="#ffdfb0"/><path d="M498.8,278.1 L502.5,276.2 L506.2,281.9 L507.2,287.5 L505.3,289.4 L502.5,287.5 L498.8,281.9Z" fill="#ffdfb0"/><path d="M525.9,279.1 L528.8,272.5 L531.6,274.4 L531.6,278.1 L528.8,280.0Z" fill="#ffdfb0"/><path d="M648.8,302.5 L656.2,304.4 L663.8,310.0 L665.6,315.6 L660.0,319.4 L654.4,317.5 L649.7,311.9Z" fill="#ffdfb0"/><path d="M684.4,330.6 L691.9,325.0 L701.2,323.1 L712.5,321.2 L712.5,340.0 L686.2,338.1Z" fill="#ffdfb0"/><path d="M632.8,241.6 L637.5,242.5 L639.4,248.1 L635.6,249.1Z" fill="#ffdfb0"/><path d="M445.0,332.5 L452.5,332.5 L450.0,357.5 L445.0,363.8 L437.5,366.9 L430.0,366.9 L427.5,365.6 L437.5,350.0 L442.5,338.8Z" fill="#ffdfb0"/><path d="M683.8,329.4 L695.0,323.8 L708.1,321.9 L691.2,335.0 L683.8,335.0Z" fill="#ffdfb0"/><path d="M964.6,407.5 L968.8,400.6 L977.0,400.6 L978.4,407.5 L977.0,421.2 L971.5,422.6 L966.0,418.5Z" fill="#ffdfb0"/><path d="M967.4,491.4 L974.2,490.0 L979.8,491.4 L983.9,495.5 L982.5,498.2 L968.8,498.2Z" fill="#ffdfb0"/><path d="M930.6,545.0 L934.0,537.5 L940.0,532.0 L943.8,522.5 L945.6,513.0 L951.0,509.0 L960.0,505.0 L966.0,492.0 L983.0,490.0 L1000.0,495.0 L1000.0,640.0 L985.0,615.0 L973.8,612.5 L962.5,605.0 L947.5,593.8 L938.0,588.0 L942.0,580.6 L951.0,575.0 L955.0,567.5 L949.4,558.0 L940.0,550.6Z" fill="#ffdfb0"/><path d="M471.0,685.0 L472.5,675.0 L480.0,672.5 L490.0,674.0 L500.0,677.5 L507.5,680.0 L517.5,675.0 L527.5,667.5 L540.0,657.5 L550.0,647.5 L555.0,640.0 L560.0,630.0 L570.0,620.0 L580.0,615.0 L590.0,610.0 L595.0,602.5 L605.0,592.5 L612.5,588.8 L625.0,591.2 L635.0,592.5 L640.0,593.3 L649.0,594.0 L658.0,593.3 L665.7,594.6 L672.0,598.8 L677.0,602.0 L679.0,602.0 L683.6,599.7 L690.5,598.3 L699.6,599.2 L710.0,598.8 L725.0,590.0 L750.0,587.5 L775.0,580.0 L800.0,572.5 L825.0,564.0 L847.0,555.6 L864.0,553.0 L868.8,560.0 L867.0,573.5 L853.8,582.5 L847.0,593.8 L842.5,605.0 L847.0,614.0 L842.5,627.5 L833.5,636.5 L824.5,645.5 L820.0,654.5 L813.0,661.0 L802.0,670.0 L793.0,681.5 L784.0,688.0 L779.5,695.0 L779.5,708.5 L775.0,715.0 L768.0,713.0 L763.8,704.0 L757.0,695.0 L748.0,686.0 L730.0,686.0 L716.5,688.0 L707.5,690.5 L700.8,695.0 L694.0,699.5 L685.0,695.0 L676.0,688.0 L673.8,677.0 L676.0,665.8 L672.0,660.0 L660.0,660.0 L650.0,658.0 L640.0,658.0 L630.0,659.0 L620.0,660.0 L605.0,665.0 L595.0,670.0 L590.0,676.0 L580.0,678.0 L570.0,678.0 L560.0,679.0 L550.0,682.5 L540.0,690.0 L530.0,697.5 L520.0,710.0 L512.5,720.0 L507.5,730.0 L500.0,737.5 L495.0,740.0 L488.0,743.8 L483.8,735.0 L479.0,717.5 L475.0,695.6Z" fill="#ffdfb0"/><path d="M677.6,602.0 L672.0,605.6 L665.7,610.7 L662.0,616.2 L657.4,620.8 L654.7,626.3 L652.8,630.9 L651.5,636.0 L652.0,645.0 L655.0,655.0 L660.0,661.0 L672.0,661.0 L688.0,659.0 L691.0,640.0 L690.5,626.3 L689.6,621.7 L688.6,617.0 L687.7,614.4 L685.9,609.8 L683.0,606.0 L679.0,602.4Z" fill="#eef5fd"/><path d="M775.0,602.8 L779.5,593.8 L788.5,587.0 L802.0,580.2 L815.5,576.9 L822.2,578.0 L820.0,584.8 L811.0,591.5 L804.2,599.4 L815.5,602.8 L824.5,605.0 L829.0,611.8 L830.1,620.8 L826.8,627.5 L817.8,634.2 L808.8,643.2 L797.5,654.5 L793.0,663.5 L786.2,672.5 L775.0,677.0 L761.5,677.0 L748.0,674.8 L736.8,668.0 L732.2,659.0 L734.5,650.0 L743.5,641.0 L748.0,627.5 L748.0,618.5 L759.2,614.0 L770.5,611.8 L775.0,607.2Z" fill="#d4a87d"/><path d="M689.5,746.8 L696.2,740.0 L703.0,731.0 L707.5,717.5 L716.5,706.2 L725.5,700.6 L734.5,699.5 L745.8,704.0 L752.5,713.0 L754.8,724.2 L750.2,733.2 L739.0,737.8 L725.5,742.2 L712.0,746.8 L698.5,749.0Z" fill="#ffdfb0"/><path d="M582.0,778.8 L587.5,771.0 L597.0,765.6 L610.0,764.7 L615.6,769.0 L613.8,778.8 L606.0,790.0 L597.0,797.5 L593.0,799.0 L587.5,793.8 L584.0,786.0Z" fill="#ffdfb0"/><path d="M662.5,567.5 L668.0,563.0 L674.7,564.7 L675.6,569.0 L670.0,572.0 L664.0,571.0Z" fill="#ffdfb0"/><path d="M623.0,960.5 L628.5,952.3 L638.2,948.0 L649.2,944.0 L658.8,946.8 L663.0,955.0 L661.6,966.0 L663.0,975.6 L661.6,982.5 L652.0,984.0 L646.4,979.8 L645.0,973.0 L638.2,970.0 L628.5,972.9 L623.0,968.8Z" fill="#ffdfb0"/><path d="M554.3,1056.8 L576.3,1055.5 L594.2,1054.0 L598.3,1045.8 L601.0,1034.8 L606.5,1030.7 L614.8,1028.0 L623.0,1023.8 L617.5,1012.8 L617.5,1001.8 L619.0,993.5 L625.8,988.0 L634.0,986.6 L639.6,989.4 L638.2,996.3 L632.7,1004.5 L632.7,1010.0 L638.2,1012.8 L645.0,1015.5 L650.6,1018.3 L647.8,1022.4 L642.4,1029.3 L638.2,1036.2 L636.8,1044.4 L639.6,1048.5 L652.0,1051.3 L670.0,1060.0 L660.0,1100.0 L560.0,1100.0 L540.0,1060.0Z" fill="#ffdfb0"/><path d="M663.0,997.0 L670.0,995.0 L672.0,1015.0 L664.0,1016.0Z" fill="#ffdfb0"/><path d="M1022.5,494.5 L1030.0,490.0 L1037.5,484.0 L1048.0,478.0 L1060.0,473.5 L1072.0,466.0 L1082.5,460.0 L1093.0,455.5 L1105.0,452.5 L1114.0,452.5 L1124.5,455.5 L1135.0,457.0 L1147.0,457.0 L1157.5,458.5 L1165.0,460.0 L1172.5,464.5 L1177.0,470.5 L1181.5,472.0 L1184.5,466.0 L1186.0,457.0 L1184.5,446.5 L1180.0,439.0 L1174.0,431.5 L1175.5,425.5 L1180.0,424.0 L1186.0,430.0 L1190.5,437.5 L1195.0,443.5 L1201.0,446.5 L1240.0,445.0 L1240.0,610.0 L1060.0,610.0 L1015.0,499.0Z" fill="#ffdfb0"/><path d="M1112.0,409.3 L1113.3,404.0 L1120.0,397.3 L1130.7,388.0 L1133.3,381.3 L1138.7,378.7 L1148.0,380.0 L1142.7,390.7 L1138.7,401.3 L1133.3,410.7 L1125.3,416.0 L1120.0,420.0 L1114.0,425.3Z" fill="#ffdfb0"/><path d="M1064.5,484.0 L1072.0,479.5 L1084.0,476.5 L1093.0,475.0 L1100.5,478.0 L1102.0,484.0 L1099.0,490.0 L1093.0,491.5 L1084.0,490.0 L1072.0,488.5 L1066.0,487.0Z" fill="#d4a87d"/><path d="M1138.0,478.0 L1144.0,473.5 L1151.5,473.5 L1157.5,479.5 L1159.0,485.5 L1154.5,490.0 L1147.0,490.0 L1139.5,485.5Z" fill="#d4a87d"/><path d="M1095.0,547.5 L1105.0,540.0 L1115.0,532.5 L1127.5,522.5 L1140.0,513.8 L1152.5,505.0 L1165.0,498.8 L1171.2,493.8 L1177.5,492.5 L1183.8,495.0 L1190.0,500.0 L1183.8,507.5 L1177.5,507.5 L1168.8,511.2 L1160.0,517.5 L1153.8,525.0 L1155.0,530.0 L1158.8,535.0 L1163.8,537.5 L1167.5,540.0 L1177.5,545.0 L1152.5,547.5 L1146.2,620.0 L1102.5,620.0 L1100.0,557.5Z" fill="#d4a87d"/>
<path d="M517.0,182.6 L527.5,190.5 L534.5,193.1 L541.5,197.5 L545.0,208.0 L552.0,210.6 L559.0,218.5 L566.0,223.8 L573.0,229.0 L580.0,231.6 L588.8,230.8 L594.0,227.2 L599.2,230.8 L602.8,237.8 L609.8,239.5 L616.8,236.0 L616.8,244.8 M560.8,220.2 L548.5,221.1 L538.0,225.5 L529.2,232.5 L532.8,241.2 L527.5,244.8 L522.2,250.0 L517.0,250.9 L512.6,250.0 M532.8,241.2 L522.2,257.0 L531.0,264.0 L532.8,271.0 L536.2,278.0 L541.5,283.2 L546.8,284.1 L552.0,288.5 L555.5,292.0 L559.0,297.2 L562.5,300.8 L566.0,304.2 L564.2,307.8 L566.0,313.0 L576.5,314.8 L585.2,318.2 L592.2,318.2 L597.5,321.8 L602.8,325.2 M462.8,330.5 L475.0,332.2 L487.2,333.1 L496.0,332.2 L501.2,335.8 L506.5,339.2 L510.0,345.4 L515.2,341.0 L524.0,338.4 L532.8,339.2 L539.8,335.8 L545.0,328.8 L553.8,325.2 L562.5,320.0 L566.0,318.2 L566.0,313.0 M482.0,337.5 L483.8,346.2 L487.2,353.2 L497.8,355.0 L506.5,356.8 L513.5,360.2 L517.0,369.0 L520.5,379.5 L527.5,386.5 L534.5,390.0 M594.0,318.2 L588.8,321.8 L580.0,330.5 L574.8,339.2 L573.0,348.0 L573.0,356.8 L574.8,365.5 L576.5,370.8 M597.5,325.2 L597.5,337.5 L599.2,342.8 L606.2,341.0 L613.2,334.0 L616.8,337.5 L625.5,344.5 L634.2,351.5 L636.0,353.2 L630.8,356.8 M639.5,292.0 L632.5,289.4 L620.2,286.8 L608.0,288.5 L599.2,293.8 L595.8,300.8 L594.0,307.8 L597.5,316.5 L599.2,325.2 M524.0,382.0 L534.0,390.0 L538.0,396.0 L534.0,402.0 L540.0,406.0 L548.0,396.0 L558.0,400.0 L564.0,394.0 L568.0,400.0 L568.0,410.0 L576.0,408.0 L586.0,406.0 L588.0,400.0 L586.0,388.0 L584.0,384.0 M576.0,408.0 L582.0,416.0 L588.0,424.0 L590.0,432.0 L596.0,436.0 L608.0,438.0 L616.0,440.0 L626.0,442.0 L636.0,444.0 L640.0,452.0 L638.0,464.0 L634.0,478.0 L626.0,484.0 L616.0,488.0 L615.0,500.0 L613.0,510.0 L612.0,520.0 L616.0,528.0 L624.0,529.0 L634.0,532.0 L638.0,526.0 L634.0,518.0 L628.0,510.0 L624.0,500.0 L626.0,490.0 M610.0,439.0 L600.0,446.0 L584.0,456.0 L576.0,460.0 L566.0,464.0 L558.0,472.0 L554.0,478.0 L552.0,484.0 L556.0,492.0 L566.0,494.0 L576.0,493.0 L582.0,490.0 L583.0,500.0 L576.0,501.0 L568.0,502.0 L564.0,510.0 L566.0,520.0 L566.0,528.0 L562.0,532.0 L556.0,530.0 L548.0,529.0 L540.0,529.0 L536.0,536.0 L528.0,540.0 L520.0,542.0 L518.0,540.0 M518.0,540.0 L524.0,546.0 L528.0,532.0 L528.0,520.0 L526.0,514.0 L520.0,514.0 L512.0,510.0 L508.0,506.0 L504.0,504.0 L496.0,508.0 L492.0,516.0 L492.0,528.0 L498.0,540.0 L498.0,552.0 L496.0,556.0 L484.0,560.0 L476.0,572.0 L470.0,592.0 L466.0,600.0 L460.0,612.0 L458.0,620.0 M362.0,515.0 L380.0,514.0 L395.0,515.0 L400.0,516.0 L410.0,518.0 L420.0,524.0 L432.0,524.0 L438.0,528.0 L440.0,536.0 L444.0,546.0 L448.0,552.0 L452.0,560.0 L460.0,564.0 L470.0,566.0 L484.0,560.0 M626.0,490.0 L636.0,490.0 L640.0,496.0 L652.0,500.0 L670.0,498.0 L680.0,492.0 L686.0,500.0 L700.0,500.0 L710.0,504.0 L720.0,500.0 M640.0,498.0 L652.0,500.0 L668.0,500.0 L676.0,492.0 L684.0,492.0 L688.0,498.0 L684.0,504.0 L698.0,502.0 L704.0,506.0 L710.0,506.0 L716.0,502.0 L724.0,500.0 L732.0,504.0 L744.0,510.0 L756.0,514.0 L768.0,516.0 L772.0,520.0 L770.0,528.0 L770.0,538.0 L776.0,542.0 L784.0,540.0 L792.0,536.0 L796.0,530.0 L794.0,522.0 L792.0,516.0 L790.0,510.0 L790.0,502.0 L794.0,496.0 L804.0,490.0 L812.0,486.0 L820.0,480.0 L830.0,476.0 L826.0,472.0 L824.0,462.0 L818.0,455.0 L813.5,450.0 L818.0,444.0 L813.5,435.0 L809.0,421.0 M796.0,522.0 L808.0,520.0 L816.0,519.0 L820.0,522.0 L830.0,528.0 L840.0,524.0 L848.0,526.0 L856.0,524.0 L864.0,522.0 L872.0,514.0 L880.0,514.0 L888.0,520.0 L896.0,526.0 L906.0,520.0 L914.0,518.0 L922.0,506.0 L932.0,496.0 L942.0,494.0 L948.0,488.0 L954.0,486.0 M770.0,538.0 L760.0,546.0 L750.0,547.0 L740.0,546.0 L732.0,544.0 L731.0,550.0 L734.0,556.0 L744.0,560.0 L750.0,564.0 L748.0,570.0 L742.0,576.0 L736.0,582.0 L732.0,588.0 L724.0,592.0 L716.0,594.0 L710.0,600.0 L706.0,608.0 L702.0,616.0 L700.0,622.0 L696.0,640.0 L692.0,654.0 L690.0,670.0 L690.0,682.0 L696.0,692.0 L700.0,698.0 M796.0,538.0 L800.0,546.0 L806.0,552.0 L812.0,554.0 L812.0,564.0 L816.0,570.0 L822.0,574.0 L822.0,578.0 L816.0,586.0 L812.0,592.0 L804.0,600.0 L798.0,606.0 L796.0,614.0 L792.0,624.0 L788.0,634.0 L780.0,638.0 L770.0,638.0 L760.0,644.0 L756.0,650.0 L756.0,660.0 L758.0,670.0 L760.0,680.0 L764.0,686.0 M814.0,594.0 L824.0,596.0 L836.0,594.0 L848.0,592.0 L850.0,598.0 L848.0,606.0 L858.0,608.0 L868.0,606.0 L876.0,608.0 L882.0,598.0 L884.0,590.0 L892.0,594.0 L900.0,598.0 L908.0,602.0 L916.0,608.0 L924.0,612.0 L932.0,616.0 M948.0,512.0 L944.0,520.0 L938.0,528.0 L930.0,534.0 L922.0,542.0 L914.0,546.0 L902.0,550.0 L894.0,554.0 L884.0,554.0 L876.0,558.0 L878.0,568.0 L890.0,574.0 L898.0,578.0 L904.0,584.0 L908.0,594.0 M640.0,694.0 L656.0,694.0 L666.0,692.0 L672.0,698.0 L670.0,710.0 M740.0,676.0 L748.0,680.0 L754.0,684.0 L748.0,694.0 L750.0,710.0 M449.9,640.0 L446.0,655.3 L430.7,670.7 L423.0,674.5 M618.6,684.1 L614.8,693.7 L603.3,709.0 L599.4,728.2 L591.8,735.9 L580.2,732.0 L576.4,743.5 L564.9,755.1 L545.7,766.6 L530.4,770.4 L522.7,778.1 L507.4,785.7 L492.0,789.6 L476.7,797.2 L474.8,808.7 L476.7,820.2 L461.4,827.9 L457.5,831.8 M476.7,820.2 L480.5,831.8 L480.5,854.8 L472.9,870.1 L467.1,875.9 M618.6,684.1 L630.1,686.0 L645.4,689.9 L668.5,693.7 L672.3,705.2 L680.0,716.7 L691.5,732.0 L699.1,739.7 L706.8,747.4 M587.9,732.0 L589.8,747.4 L587.9,762.7 L586.0,778.1 L587.9,793.4 L584.1,804.9 L580.2,816.4 L572.6,820.2 L568.7,831.8 L572.6,839.4 L568.7,854.8 L564.9,870.1 L568.7,885.4 L576.4,893.1 L584.1,897.0 L599.4,889.3 L607.1,893.1 L614.8,904.6 L630.1,908.5 L645.4,904.6 L660.8,908.5 L676.1,904.6 M580.2,816.4 L614.8,816.4 L637.8,812.6 L653.1,801.1 L668.5,793.4 L683.8,789.6 L699.1,785.7 L714.5,778.1 L729.8,770.4 L745.2,762.7 L768.2,755.1 L798.8,743.5 M499.7,931.5 L515.1,943.0 L534.2,954.5 L553.4,966.0 L564.9,969.8 L584.1,966.0 L599.4,958.3 M557.2,969.8 L561.1,985.2 L564.9,1008.2 L568.7,1023.5 L576.4,1038.8 L580.2,1061.9 L576.4,1081.0 M591.8,923.8 L591.8,939.1 L587.9,946.8 L591.8,954.5 L599.4,958.3 M1092.5,440.0 L1112.5,437.5 L1125.0,435.0 L1140.0,437.5 L1152.5,435.0 L1160.0,430.0 L1170.0,415.0 L1182.5,412.5 L1200.0,407.5 L1212.5,403.8 L1225.0,401.2 L1227.5,405.0 L1222.5,412.5 L1227.5,422.5 L1212.5,427.5 L1202.5,432.5 L1192.5,440.0 L1182.5,442.5 L1170.0,450.0 L1165.0,460.0 L1160.0,470.0 L1152.5,477.5 L1145.0,485.0 L1140.0,495.0 L1137.5,505.0 L1132.5,515.0 L1127.5,525.0 L1120.0,532.5 L1115.0,537.5 L1105.0,540.0 L1100.0,545.0 M1180.0,480.0 L1172.5,487.5 L1160.0,487.5 L1150.0,483.8 L1142.5,480.0 M1017.5,487.5 L1020.0,475.0 L1032.5,470.0 L1050.0,471.2 L1062.5,472.5 L1075.0,470.0 L1090.0,467.5 L1097.5,470.0 L1100.0,480.0 L1110.0,482.5 L1115.0,490.0 L1120.0,495.0 L1115.0,502.5 L1110.0,505.0 L1107.5,510.0 L1100.0,517.5 L1097.5,527.5 L1100.0,537.5 L1102.5,545.0 L1100.0,555.0 M1120.0,525.0 L1125.0,530.0 L1125.0,537.5 L1135.0,540.0 M955.0,430.0 L965.0,432.5 L977.5,430.0 M1017.5,445.0 L1016.2,455.0 L1015.0,465.0 L1017.5,472.5 M955.0,447.5 L960.0,452.5 L966.2,455.0 L962.5,460.0 L955.0,465.0 L947.5,472.5 L945.0,480.0 L950.0,490.0 M463.0,640.0 L470.0,622.5 L487.5,622.5 L505.0,630.0 L520.0,631.0 L535.0,632.5 L542.5,640.0 L555.0,635.0 L565.0,627.5 L575.0,620.0 L585.0,617.5 L590.0,627.5 L600.0,627.5 L612.5,622.5 L625.0,625.0 L635.0,627.5 L645.0,622.5 L655.0,620.0 L665.0,620.0 L680.0,620.0 M764.0,686.0 L752.0,700.0 L748.0,715.0 L750.0,735.0 L755.0,750.0 L760.0,760.0 M700.0,745.0 L720.0,752.5 L732.5,755.0 L750.0,742.5 L762.5,735.0 L775.0,732.5 L787.5,727.5 L800.0,720.0" fill="none" stroke="#666" stroke-width="1.9" stroke-dasharray="5.6 3.7" stroke-linejoin="round"/>
</g>
<path d="M444.4,333.4 L461.2,326.9 L464.1,317.5 L476.2,302.5 L485.6,295.9 L483.8,283.8 L485.6,270.6 L491.2,265.0 L508.1,257.5 L511.9,251.9 L508.1,248.1 L498.8,246.2 L489.4,242.5 L488.4,236.9 L477.2,235.0 L476.2,227.5 L466.9,221.9 L465.0,218.1 L469.7,212.5 L466.9,205.0 L465.0,199.4 L474.4,194.7 L473.4,191.9 L465.0,190.9 L464.1,186.2 L460.3,182.5 L458.4,179.7 L464.1,170.3 L476.2,166.0 L487.5,167.5 L506.2,170.3 L511.9,173.1 L523.1,175.0 L532.5,172.2 L540.0,169.4 L551.2,166.6 L556.9,166.6 L562.5,160.9 L570.0,158.1 L571.9,154.4 L585.0,147.8 L598.1,141.2 L601.9,143.1 L605.6,141.2 L606.6,147.8 L615.0,170.3 L626.2,174.1 L637.5,180.6 L638.4,184.4 L630.0,190.0 L631.9,208.8 L643.1,218.1 L644.1,223.8 L645.9,229.4 L646.9,244.4 L641.2,249.1 L636.6,249.1 L631.9,244.4 L628.1,242.5 L618.8,242.5 L619.7,250.0 L628.1,261.2 L629.1,272.5 L631.9,276.2 L630.9,285.6 L641.2,282.8 L648.8,291.2 L654.4,295.9 L661.9,297.8 L669.4,298.8 L678.8,304.4 L680.6,311.9 L690.0,315.6 L703.1,321.2 L708.8,325.0 L700.0,331.0 L690.0,339.7 L682.5,350.0 L680.8,358.8 L677.0,364.0 L676.0,371.9 L682.5,376.0 L688.6,379.8 L692.0,378.0 L691.7,378.5 L703.5,384.4 L715.3,389.4 L720.4,394.5 L728.8,400.4 L738.9,405.5 L744.0,403.8 L759.2,412.2 L766.8,412.2 L770.2,417.3 L781.1,420.7 L789.6,422.3 L792.9,419.8 L799.7,419.8 L808.1,422.3 L816.6,419.0 L825.0,422.3 L835.1,425.7 L836.8,433.3 L845.2,437.5 L853.7,440.9 L857.1,444.3 L868.9,440.9 L872.2,444.3 L875.6,449.3 L882.4,447.7 L892.5,449.3 L899.2,451.9 L907.7,455.2 L917.8,451.9 L921.2,455.2 L926.2,457.8 L931.3,456.1 L939.8,455.2 L949.9,456.1 L953.2,456.9 L953.6,456.3 L955.0,452.9 L956.4,447.4 L957.1,439.1 L952.2,433.6 L951.6,425.4 L954.3,415.8 L956.4,406.1 L955.0,403.4 L960.5,401.3 L968.8,399.9 L972.9,397.9 L978.4,399.9 L981.1,405.4 L979.8,413.0 L979.1,419.9 L982.5,424.0 L978.4,427.4 L979.8,433.6 L983.9,437.8 L989.4,440.5 L996.2,440.5 L1001.8,441.9 L1008.6,444.6 L1015.5,446.0 L1023.8,444.6 L1027.9,441.9 L1033.4,439.8 L1038.9,441.9 L1045.8,443.2 L1055.4,443.2 L1065.0,442.6 L1070.5,440.5 L1074.6,441.9 L1082.9,440.5 L1091.1,439.8 L1092.5,437.8 L1091.1,432.2 L1093.9,426.8 L1091.1,421.2 L1084.2,419.9 L1077.4,417.1 L1076.0,413.0 L1078.8,409.6 L1080.0,409.3 L1089.3,409.3 L1100.0,406.0 L1112.0,402.7 L1114.0,398.7 L1114.7,395.3 L1120.0,393.3 L1129.3,388.0 L1132.7,380.0 L1136.0,378.7 L1146.7,376.7 L1154.7,373.3 L1161.3,368.0 L1170.7,361.3 L1181.3,356.0 L1185.3,357.3 L1188.0,360.0 L1197.3,361.3 L1208.0,364.7 L1212.0,361.3 L1213.3,357.3 L1220.0,354.7 L1230.7,350.7 L1234.7,353.3 L1238.7,357.3 L1242.0,358.0 L1234.7,363.3 L1235.3,368.7 L1245.3,364.7 L1250.0,374.7 L1240.0,385.3 L1241.3,388.0 L1250.7,385.3 L1257.3,387.3 L1266.7,388.0 L1276.0,393.3 L1276.0,404.0 L1269.3,406.7 L1261.3,413.3 L1260.0,418.7 L1264.0,426.7 L1268.0,431.3 L1262.7,430.7 L1257.3,425.3 L1252.0,424.0 L1240.0,425.3 L1232.0,428.0 L1224.0,433.3 L1213.3,441.3 L1202.7,446.7 L1197.3,450.7 L1196.7,460.0 L1198.7,468.7 L1194.7,473.3 L1190.7,481.3 L1184.0,488.0 L1180.0,493.3 L1198.8,470.0 L1195.0,473.8 L1192.5,480.0 L1187.5,485.0 L1181.2,490.0 L1178.8,496.2 L1185.0,501.2 L1183.8,507.5 L1178.8,515.0 L1172.5,523.8 L1167.5,533.8 L1163.8,543.8 L1160.0,542.5 L1152.5,540.0 L1143.8,539.4 L1138.8,537.5 L1136.2,538.8 L1138.1,545.0 L1140.0,551.2 L1138.8,563.8 L1137.5,572.5 L1132.5,573.8 L1130.0,578.8 L1128.8,586.2 L1131.2,600.0 L1127.5,602.5 L1123.8,608.8 L1117.5,605.0 L1113.8,605.6 L1111.2,610.0 L1108.8,592.5 L1107.5,582.5 L1103.8,575.0 L1102.5,566.2 L1101.2,557.5 L1098.8,551.2 L1095.0,550.0 L1089.4,551.2 L1088.8,553.8 L1087.5,557.5 L1083.8,561.2 L1082.5,568.8 L1081.2,572.5 L1077.5,573.8 L1072.5,571.2 L1068.8,568.8 L1066.2,566.2 L1063.8,557.5 L1062.5,552.5 L1065.0,542.5 L1070.0,537.5 L1077.5,536.2 L1081.2,533.8 L1087.5,531.2 L1088.8,527.5 L1093.8,525.0 L1096.2,520.0 L1097.5,515.0 L1098.8,510.0 L1102.5,508.8 L1107.5,508.8 L1107.5,506.2 L1102.5,502.5 L1095.0,500.0 L1087.5,499.4 L1077.5,499.4 L1065.0,498.8 L1052.5,498.8 L1078.8,499.6 L1065.0,498.9 L1051.2,498.9 L1034.8,499.6 L1021.0,496.9 L1014.8,494.1 L1014.1,487.2 L1014.1,476.2 L1013.4,468.0 L1011.4,463.9 L1008.6,463.2 L1006.6,465.2 L1004.5,470.1 L1000.4,470.8 L994.9,468.0 L990.8,462.5 L989.4,458.4 L986.6,455.6 L984.6,457.0 L985.2,461.1 L982.5,461.8 L977.0,459.8 L972.9,455.6 L968.8,452.9 L966.0,450.8 L964.6,451.5 L965.3,454.9 L960.5,462.5 L955.0,469.4 L955.0,474.9 L960.5,477.6 L967.4,483.1 L971.5,487.2 L978.4,488.6 L979.8,491.4 L983.9,494.1 L985.2,496.9 L982.5,498.2 L977.0,498.2 L968.8,498.2 L966.0,502.4 L964.6,507.9 L960.5,509.2 L956.4,508.6 L953.6,512.0 L952.2,517.5 L955.0,521.6 L960.5,524.4 L968.8,527.1 L974.2,528.5 L977.0,531.2 L976.3,545.0 L973.1,545.5 L971.5,552.0 L975.3,556.3 L977.4,560.7 L978.5,565.0 L983.9,567.2 L981.8,571.5 L983.9,580.2 L986.1,586.7 L987.7,595.4 L988.3,604.0 L988.3,608.4 L988.3,610.5 L985.0,612.7 L986.1,617.0 L989.3,619.2 L988.3,621.4 L982.8,621.9 L978.5,623.5 L976.3,622.4 L976.9,617.0 L975.3,608.4 L974.7,605.1 L972.0,614.9 L968.8,621.4 L964.4,622.4 L960.1,620.3 L957.9,618.1 L955.8,620.3 L953.6,619.2 L955.8,608.4 L957.4,604.0 L953.6,599.7 L950.3,597.0 L949.8,596.4 L952.5,599.7 L954.7,604.0 L952.5,611.6 L947.1,617.0 L936.3,620.3 L925.4,623.5 L916.8,629.8 L912.2,636.5 L914.5,647.8 L916.8,654.5 L910.0,666.9 L894.2,677.0 L889.8,682.6 L867.2,689.4 L856.0,689.4 L861.6,682.6 L865.0,682.6 L865.0,684.9 L860.5,688.2 L853.8,692.8 L853.8,697.2 L840.2,708.5 L829.0,722.0 L815.5,737.8 L799.8,746.8 L793.0,753.5 L779.5,764.8 L766.0,771.5 L754.8,782.8 L755.9,790.6 L750.2,795.1 L734.5,803.0 L718.8,805.2 L714.2,812.0 L705.2,821.0 L694.0,822.1 L683.9,830.0 L686.9,825.6 L681.2,835.0 L676.6,850.0 L679.4,868.8 L678.4,880.0 L681.2,893.1 L679.4,902.5 L684.1,904.4 L683.1,910.0 L683.6,907.5 L685.4,916.7 L682.7,931.3 L679.0,942.3 L675.3,946.0 L669.8,953.3 L666.2,962.5 L667.1,975.3 L664.3,979.9 L668.0,982.7 L668.9,1015.7 L655.2,1016.6 L648.8,1019.3 L646.0,1030.3 L637.8,1043.2 L640.5,1048.7 L653.3,1053.3 L650.6,1051.4 L640.5,1051.4 L618.5,1057.8 L610.3,1068.8 L609.3,1079.8 L598.3,1087.2 L588.3,1092.7 L576.3,1085.3 L565.3,1076.2 L556.2,1063.3 L551.6,1054.2 L547.0,1041.3 L542.4,1024.8 L541.5,1019.3 L530.5,986.3 L517.7,964.3 L506.7,951.5 L497.5,929.5 L492.0,911.2 L489.3,894.7 L484.7,887.3 L488.1,898.8 L485.3,885.6 L480.6,872.5 L475.0,861.2 L467.5,850.0 L461.9,840.6 L461.9,836.9 L457.2,831.2 L460.0,829.4 L454.4,823.8 L446.9,812.5 L443.1,799.4 L440.3,780.6 L437.5,767.5 L435.6,760.0 L430.9,743.1 L428.1,726.2 L427.2,718.8 L426.2,707.5 L427.5,705.0 L424.4,701.2 L422.5,696.2 L421.2,692.5 L420.0,685.0 L421.2,675.0 L423.8,667.5 L426.2,660.0 L426.9,650.0 L425.0,643.8 L422.5,637.5 L418.8,632.5 L420.0,630.0 L418.8,627.5 L423.1,622.5 L430.0,620.0 L435.6,618.1 L423.8,620.0 L415.0,619.4 L415.6,616.2 L416.2,611.2 L420.0,610.0 L416.2,607.5 L415.0,603.1 L418.8,602.5 L424.4,601.2 L420.0,600.0 L410.0,599.8 L402.5,600.0 L405.0,601.2 L406.2,605.0 L401.9,610.0 L397.5,615.6 L403.8,618.8 L405.6,622.5 L402.5,631.2 L397.5,638.8 L380.0,646.2 L385.0,642.5 L370.0,650.0 L357.5,653.8 L347.5,651.2 L335.0,642.5 L320.0,627.5 L307.5,617.5 L293.8,605.0 L291.2,597.5 L296.2,594.5 L302.5,598.8 L320.0,593.8 L332.5,588.8 L342.5,575.0 L345.0,572.5 L340.0,573.8 L325.0,577.5 L316.2,582.5 L300.0,580.0 L287.5,575.0 L277.5,567.5 L272.5,556.2 L275.0,553.0 L285.0,545.5 L272.5,551.2 L265.5,553.8 L263.8,547.5 L265.0,543.8 L282.5,540.5 L283.8,528.8 L286.2,529.5 L313.8,530.0 L322.5,533.8 L332.5,528.8 L345.0,525.0 L347.5,528.8 L355.0,530.0 L362.5,526.2 L361.2,522.5 L363.8,516.2 L360.0,507.5 L350.0,492.5 L348.8,482.5 L338.8,480.0 L330.0,470.0 L330.0,470.0 L331.9,461.2 L332.5,453.8 L328.8,450.6 L318.8,448.8 L311.2,445.0 L308.1,442.5 L310.0,432.5 L312.5,428.8 L323.8,418.8 L331.9,406.2 L337.5,402.5 L342.5,400.0 L347.5,401.9 L350.0,406.2 L352.5,410.0 L356.2,411.2 L370.0,406.2 L380.0,405.6 L391.9,402.5 L395.0,395.0 L402.5,387.5 L405.6,378.8 L408.8,374.4 L427.5,365.6 L437.5,350.0 L442.5,338.8 L445.0,333.8Z" fill="none" stroke="#000" stroke-width="2.4" stroke-linejoin="round"/>
<path d="M1115.6,937.0 L1126.0,937.0 L1124.0,940.0 L1121.2,941.3 L1120.9,944.2 L1121.6,949.1 L1119.8,952.0 L1117.7,954.8 L1116.6,956.9 L1116.3,960.5 L1115.6,964.0 L1115.9,968.3 L1116.6,971.1 L1115.6,973.2 L1114.1,975.4 L1114.8,978.9 L1112.7,979.6 L1111.3,978.2 L1112.4,976.1 L1112.7,973.2 L1111.3,971.8 L1110.6,965.4 L1112.0,959.8 L1112.4,956.9 L1112.7,952.7 L1114.1,949.8 L1116.3,948.4 L1117.7,948.4 L1118.0,947.0 L1116.3,944.9 L1115.6,942.8Z" fill="#bbdefb" stroke="#000" stroke-width="2" stroke-linejoin="round"/><path d="M1124,955 L1126.5,954.5 L1127.5,957.5 L1126,959.5 L1124.5,958Z" fill="#000" stroke="#000" stroke-width="1.2"/><path d="M1102.8,1000.2 L1105.6,996.6 L1108.5,994.5 L1109.9,997.3 L1111.3,1001.6 L1109.2,1005.1 L1107.8,1008.0 L1103.5,1007.2 L1103.5,1003.7Z" fill="#bbdefb" stroke="#000" stroke-width="2" stroke-linejoin="round"/><ellipse cx="1116.8" cy="1054.3" rx="2.2" ry="2" fill="#fff" stroke="#000" stroke-width="1.6"/><path d="M1127.5,1083 L1131,1085 L1130,1088 L1128,1087Z" fill="#000" stroke="#000" stroke-width="1.4"/><ellipse cx="1143" cy="1090" rx="1.8" ry="2.6" fill="#fff" stroke="#000" stroke-width="1.6"/><ellipse cx="1138.5" cy="1097" rx="2" ry="2" fill="#fff" stroke="#000" stroke-width="1.6"/><ellipse cx="1148.5" cy="1117.5" rx="2.5" ry="1.8" fill="#fff" stroke="#000" stroke-width="1.6"/><path d="M1152.0,1123.0 L1156.0,1125.0 L1158.5,1132.0 L1157.0,1139.0 L1153.5,1137.0 L1150.5,1131.0Z" fill="#fff" stroke="#000" stroke-width="1.8" stroke-linejoin="round"/><path d="M423.5,981 L425,984 L424,985Z" fill="none" stroke="#000" stroke-width="1.8"/><path d="M431,1084 L434.5,1085.5 L433,1087Z" fill="none" stroke="#000" stroke-width="1.8"/>
<g font-family="Liberation Sans, sans-serif" font-size="30">
<g opacity="0.6" fill="#fff" stroke="#fff" stroke-width="20" stroke-linejoin="round"><text x="599.7" y="388.3">Delhi</text><text x="438.1" y="582.4">Ahmedabad</text><text x="449.0" y="718.9">Mumbai</text><text x="643.1" y="778.9">Hyderābād</text><text x="612.8" y="930.8">Bangalore</text><text x="665.2" y="646.2">Nāgpur</text><text x="986.8" y="598.6">Kolkāta</text></g>
<g fill="#000"><circle cx="577.9" cy="379.7" r="7.3" fill="#fff" stroke="#000" stroke-width="2"/><text x="599.7" y="388.3">Delhi</text><circle cx="416.3" cy="573.8" r="7.3" fill="#fff" stroke="#000" stroke-width="2"/><text x="438.1" y="582.4">Ahmedabad</text><circle cx="427.2" cy="710.3" r="7.3" fill="#fff" stroke="#000" stroke-width="2"/><text x="449.0" y="718.9">Mumbai</text><circle cx="621.3" cy="770.3" r="7.3" fill="#fff" stroke="#000" stroke-width="2"/><text x="643.1" y="778.9">Hyderābād</text><circle cx="591" cy="922.2" r="7.3" fill="#fff" stroke="#000" stroke-width="2"/><text x="612.8" y="930.8">Bangalore</text><circle cx="643.4" cy="637.6" r="7.3" fill="#fff" stroke="#000" stroke-width="2"/><text x="665.2" y="646.2">Nāgpur</text><circle cx="965" cy="590" r="7.3" fill="#fff" stroke="#000" stroke-width="2"/><text x="986.8" y="598.6">Kolkāta</text></g>
</g>
<g font-size="22" fill="#333">
<text x="40.5" y="39.8">Based on the CENTRAL TROPICAL PACIFIC SST</text>
<text x="40.5" y="66.3">During years with a NEUTRAL NINO4</text>
<text x="40.5" y="92.8">Climatology: 1981-2010</text>
<text x="40.5" y="1160">Using data from ERA5</text>
</g>
<g font-size="26.7" font-style="italic" fill="#000" text-anchor="middle">
<text x="1200" y="796.2">Chance of Exceeding the Median Rainfall</text>
<text x="1200" y="835.4">Between November to January</text>
</g>
<rect x="883.4" y="900.7" width="57.2" height="36.5" fill="#664536" stroke="#1a1a1a" stroke-width="1.2"/><line x1="912.0" y1="937.8" x2="912.0" y2="945.5" stroke="#666" stroke-width="1.5"/><rect x="947.4" y="900.7" width="57.2" height="36.5" fill="#9c6342" stroke="#1a1a1a" stroke-width="1.2"/><line x1="976.0" y1="937.8" x2="976.0" y2="945.5" stroke="#666" stroke-width="1.5"/><rect x="1011.4" y="900.7" width="57.2" height="36.5" fill="#b77d4b" stroke="#1a1a1a" stroke-width="1.2"/><line x1="1040.0" y1="937.8" x2="1040.0" y2="945.5" stroke="#666" stroke-width="1.5"/><rect x="1075.4" y="900.7" width="57.2" height="36.5" fill="#d4a87d" stroke="#1a1a1a" stroke-width="1.2"/><line x1="1104.0" y1="937.8" x2="1104.0" y2="945.5" stroke="#666" stroke-width="1.5"/><rect x="1139.4" y="900.7" width="57.2" height="36.5" fill="#ffdfb0" stroke="#1a1a1a" stroke-width="1.2"/><line x1="1168.0" y1="937.8" x2="1168.0" y2="945.5" stroke="#666" stroke-width="1.5"/><rect x="1203.4" y="900.7" width="57.2" height="36.5" fill="#eef6fe" stroke="#1a1a1a" stroke-width="1.2"/><line x1="1232.0" y1="937.8" x2="1232.0" y2="945.5" stroke="#666" stroke-width="1.5"/><rect x="1267.4" y="900.7" width="57.2" height="36.5" fill="#bbdefb" stroke="#1a1a1a" stroke-width="1.2"/><line x1="1296.0" y1="937.8" x2="1296.0" y2="945.5" stroke="#666" stroke-width="1.5"/><rect x="1331.4" y="900.7" width="57.2" height="36.5" fill="#64b5f6" stroke="#1a1a1a" stroke-width="1.2"/><line x1="1360.0" y1="937.8" x2="1360.0" y2="945.5" stroke="#666" stroke-width="1.5"/><rect x="1395.4" y="900.7" width="57.2" height="36.5" fill="#1976d2" stroke="#1a1a1a" stroke-width="1.2"/><line x1="1424.0" y1="937.8" x2="1424.0" y2="945.5" stroke="#666" stroke-width="1.5"/><rect x="1459.4" y="900.7" width="57.2" height="36.5" fill="#0d47a1" stroke="#1a1a1a" stroke-width="1.2"/><line x1="1488.0" y1="937.8" x2="1488.0" y2="945.5" stroke="#666" stroke-width="1.5"/><text x="939.5" y="970.5" font-size="18.5" textLength="73" lengthAdjust="spacingAndGlyphs" fill="#000">10→20%</text><text x="1067.5" y="970.5" font-size="18.5" textLength="73" lengthAdjust="spacingAndGlyphs" fill="#000">30→40%</text><text x="1259.5" y="970.5" font-size="18.5" textLength="73" lengthAdjust="spacingAndGlyphs" fill="#000">60→70%</text><text x="1387.5" y="970.5" font-size="18.5" textLength="73" lengthAdjust="spacingAndGlyphs" fill="#000">80→90%</text><text x="881" y="889.3" font-size="19" fill="#666">LOW CHANCE</text><text x="1200" y="889.3" font-size="19" fill="#666" text-anchor="middle">AVERAGE</text><text x="1517" y="889.3" font-size="19" fill="#666" text-anchor="end">HIGH CHANCE</text>
<g>
<g fill="#fdb147">
<path d="M1393,1125.2 Q1405,1120.5 1418,1120.2 Q1416,1134 1393,1136.9 Z"/>
<path d="M1418.8,1120.2 Q1432,1120 1444.9,1125.5 L1444.9,1147.7 Q1421,1141 1418.8,1130 Z"/>
<path d="M1393,1148 Q1414,1145 1418.3,1132 L1418.3,1141 Q1415,1157 1393,1158.2 Z"/>
<path d="M1419,1142.4 Q1422,1157 1444.3,1158.5 L1439.9,1168.7 Q1420,1164 1419,1152.9 Z"/>
<path d="M1397.9,1169.3 Q1416,1164 1418.3,1152.9 L1418.3,1164.6 Q1414,1174 1406.7,1176.8 Z"/>
<path d="M1419,1163.4 L1419,1179.8 L1430,1176.8 Q1423,1174 1419,1163.4 Z"/>
</g>
<text x="1460.5" y="1161.3" font-family="Liberation Serif, serif" font-size="35" fill="#3b2b4f">Uni<tspan font-weight="bold">SQ</tspan></text>
</g>
</svg>
</body></html>
